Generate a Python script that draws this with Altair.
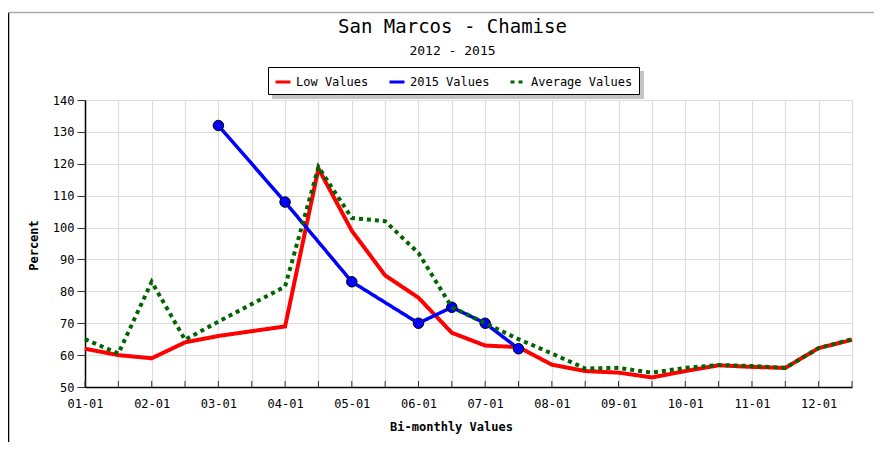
import altair as alt
import pandas as pd

x_labels = ["01-01", "01-15", "02-01", "02-15", "03-01", "03-15", "04-01", "04-15",
            "05-01", "05-15", "06-01", "06-15", "07-01", "07-15", "08-01", "08-15",
            "09-01", "09-15", "10-01", "10-15", "11-01", "11-15", "12-01", "12-15"]

low_values = [62, 60, 59, 64, 66, 67.5, 69, 118.5, 99, 85, 78, 67,
              63, 62.5, 57, 55, 54.5, 53, 55, 56.8, 56.3, 56, 62.2, 64.8]

avg_values = [65, 60.5, 83, 64.8, 70.5, 76, 81.5, 119, 103, 102, 92, 75,
              70, 65, 60.5, 55.8, 56, 54.5, 56, 56.9, 56.6, 56, 62.2, 65]

v2015_labels = ["03-01", "04-01", "05-01", "06-01", "06-15", "07-01", "07-15"]
v2015_values = [132, 108, 83, 70, 75, 70, 62]

series_names = ["Low Values", "2015 Values", "Average Values"]
series_colors = ["#ff0000", "#0000ff", "#006400"]
y_ticks = [50, 60, 70, 80, 90, 100, 110, 120, 130, 140]

rows = []
for lab, v in zip(x_labels, low_values):
    rows.append({"x": lab, "value": v, "series": "Low Values"})
for lab, v in zip(v2015_labels, v2015_values):
    rows.append({"x": lab, "value": v, "series": "2015 Values"})
for lab, v in zip(x_labels, avg_values):
    rows.append({"x": lab, "value": v, "series": "Average Values"})
df = pd.DataFrame(rows)

FONT = "DejaVu Sans Mono"

legend = alt.Legend(
    title=None, orient="none", legendX=183, legendY=-33, direction="horizontal",
    symbolType="stroke", symbolStrokeWidth=3, symbolSize=225,
    labelFont=FONT, labelFontSize=12, labelColor="black", labelOffset=4,
    columnPadding=14, padding=6, strokeColor="black", fillColor="white",
)

color_enc = alt.Color("series:N", scale=alt.Scale(domain=series_names, range=series_colors),
                      legend=legend)
dash_enc = alt.StrokeDash("series:N",
                          scale=alt.Scale(domain=series_names, range=[[1, 0], [1, 0], [4, 4]]),
                          legend=legend)

x_enc = alt.X("x:N", sort=x_labels, scale=alt.Scale(type="point", padding=0),
              axis=alt.Axis(title="Bi-monthly Values", ticks=False, labelAngle=0,
                            labelExpr="slice(datum.label, 3) == '15' ? '' : datum.label",
                            labelPadding=11, labelFont=FONT, labelFontSize=12, labelColor="black",
                            titleFont=FONT, titleFontSize=12, titleFontWeight="bold",
                            titleX=366, titleY=39, titleBaseline="middle", titleAlign="center",
                            domainColor="black", domainWidth=1.5,
                            grid=True, gridColor="#dddddd", gridWidth=1.2))
y_enc = alt.Y("value:Q", scale=alt.Scale(domain=[50, 140], nice=False, zero=False),
              axis=alt.Axis(title="Percent", values=y_ticks, tickSize=8, tickColor="#333333",
                            labelPadding=3, labelFont=FONT, labelFontSize=12, labelColor="black",
                            titleFont=FONT, titleFontSize=12, titleFontWeight="bold",
                            titleX=-52, titleY=145, titleBaseline="middle", titleAlign="center",
                            domainColor="black", domainWidth=1.5,
                            grid=True, gridColor="#dddddd", gridWidth=1.2))

base = alt.Chart(df)

low_line = base.transform_filter(alt.datum.series == "Low Values").mark_line(
    strokeWidth=4).encode(x=x_enc, y=y_enc, color=color_enc, strokeDash=dash_enc)
blue_line = base.transform_filter(alt.datum.series == "2015 Values").mark_line(
    strokeWidth=3.5).encode(x=x_enc, y=y_enc, color=color_enc, strokeDash=dash_enc)
blue_pts = base.transform_filter(alt.datum.series == "2015 Values").mark_point(
    filled=True, size=110, stroke="black", strokeWidth=1, opacity=1).encode(
    x=x_enc, y=y_enc, fill=alt.value("#0000ff"))
avg_line = base.transform_filter(alt.datum.series == "Average Values").mark_line(
    strokeWidth=4).encode(x=x_enc, y=y_enc, color=color_enc, strokeDash=dash_enc)

ticks = alt.Chart(pd.DataFrame({"x": x_labels})).mark_rule(color="#333333", strokeWidth=1).encode(
    x=alt.X("x:N", sort=x_labels), y=alt.value(281), y2=alt.value(287))

# decorative frame and legend shadow (page furniture, not data)
one = pd.DataFrame({"k": [0]})
frame_left = alt.Chart(one).mark_rule(color="black", strokeWidth=1.5).encode(
    x=alt.value(-76.5), y=alt.value(-87.5), y2=alt.value(352))
frame_top = alt.Chart(one).mark_rule(color="#aaaaaa", strokeWidth=1.5).encode(
    x=alt.value(-76.5), x2=alt.value(800), y=alt.value(-87.5))
legend_shadow = alt.Chart(one).mark_rect(color="#c4c4c4").encode(
    x=alt.value(187), x2=alt.value(559), y=alt.value(-29), y2=alt.value(-1))

chart = alt.layer(frame_left, frame_top, legend_shadow,
                  low_line, blue_line, blue_pts, avg_line, ticks).properties(
    width=767, height=287,
    title=alt.TitleParams("San Marcos - Chamise", subtitle="2012 - 2015",
                          font=FONT, fontSize=19, fontWeight="normal", color="black",
                          subtitleFont=FONT, subtitleFontSize=13, subtitleColor="black",
                          subtitlePadding=8, anchor="middle", dx=-16, offset=-46),
    autosize=alt.AutoSizeParams(type="none"),
    padding={"left": 77, "top": 92, "right": 22, "bottom": 55},
).configure_view(stroke=None).configure(background="white")

chart.save("out.html", embed_options={"renderer": "svg", "actions": False})
